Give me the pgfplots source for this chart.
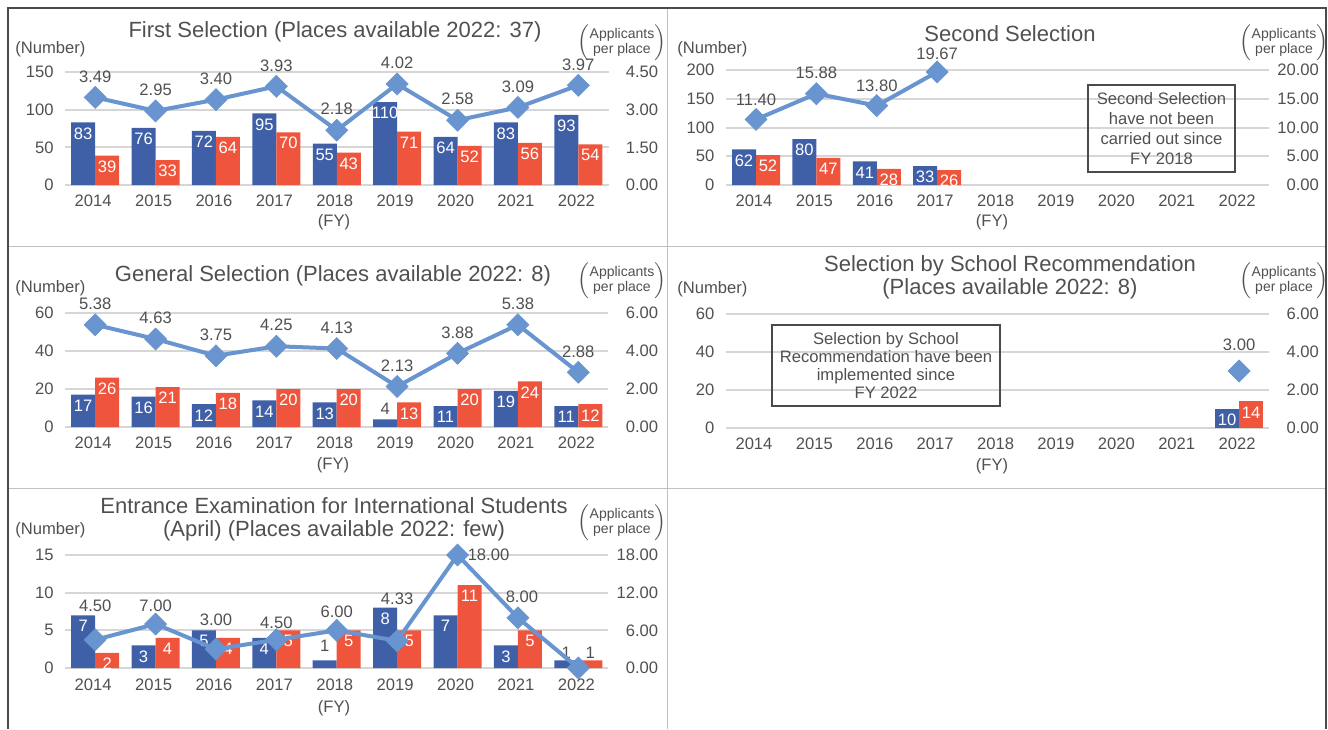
\documentclass[border=0pt]{standalone}
\usepackage{pgfplots}
\pgfplotsset{compat=1.18}
\usepackage{fontspec}
\setmainfont{Liberation Sans}

\definecolor{barblue}{HTML}{3F5FA6}
\definecolor{barred}{HTML}{EF553C}
\definecolor{linecol}{HTML}{6894CF}
\definecolor{txt}{HTML}{505050}
\definecolor{gridc}{HTML}{D6D6D6}
\definecolor{framec}{HTML}{4A4A4A}
\definecolor{divider}{HTML}{C0C0C0}

\newcommand{\tickfont}{\fontsize{8.3}{9}\selectfont}
\newcommand{\titlefont}{\fontsize{11}{11.5}\selectfont}
\newcommand{\unitlbl}{$\left(\begin{tabular}{@{}c@{}}Applicants\\per place\end{tabular}\right)$}

\pgfplotsset{
  leftax/.style={
    scale only axis, width=271.75pt,
    xmin=-0.5, xmax=8.5, ymin=0,
    axis line style={draw=none},
    major tick length=0pt,
    xtick={0,...,8},
    xticklabels={2014,2015,2016,2017,2018,2019,2020,2021,2022},
    ymajorgrids, grid style={gridc, line width=1pt},
    tick label style={font=\tickfont, text=txt},
    yticklabel style={anchor=east, inner sep=0pt, xshift=-5.5pt},
    xticklabel style={anchor=north, inner sep=0pt, yshift=-5pt, xshift=-1pt},
    /pgf/number format/assume math mode=true,
    ybar=0pt, bar width=12pt,
    clip=false,
  },
  rightax/.style={
    scale only axis, width=271.75pt,
    xmin=-0.5, xmax=8.5, ymin=0,
    axis x line=none, axis y line*=right,
    axis line style={draw=none},
    major tick length=0pt,
    tick label style={font=\tickfont, text=txt},
    yticklabel style={anchor=east, inner sep=0pt, xshift=25pt,
      /pgf/number format/.cd, fixed, fixed zerofill, precision=2},
    /pgf/number format/assume math mode=true,
    clip=false,
  },
  bars/.style={
    draw=none, fill=#1,
    nodes near coords,
    visualization depends on={\thisrow{yo} \as \yo},
    visualization depends on={value \thisrow{c} \as \lc},
    nodes near coords style={anchor=center, yshift=\yo pt, text=\lc, font=\tickfont, inner sep=0pt},
  },
  ratio/.style={
    color=linecol, line width=2pt, mark=square*, mark size=3.9pt,
    mark options={rotate=45, solid, line width=0.3pt},
    nodes near coords, point meta=explicit symbolic,
    visualization depends on={\thisrow{yo} \as \yo},
    visualization depends on={\thisrow{xo} \as \xo},
    nodes near coords style={anchor=center, yshift=\yo pt, xshift=\xo pt, text=txt, font=\tickfont, inner sep=0pt},
  },
}

\begin{document}
\begin{tikzpicture}[x=0.5pt, y=-0.5pt]
\path[use as bounding box] (0,0) rectangle (1328,729);

% panel frame
\draw[divider, line width=0.75pt] (667.7,7.5) -- (667.7,729);
\draw[divider, line width=0.75pt] (7.5,246.5) -- (1326,246.5);
\draw[divider, line width=0.75pt] (7.5,488.5) -- (1326,488.5);
\draw[framec, line width=1pt] (7.5,729) -- (7.5,7.5) -- (1326,7.5) -- (1326,729);

% ---------- First Selection ----------
\begin{axis}[leftax, at={(32.5pt,-92.5pt)}, height=56.5pt, ymax=150, ytick={0,50,100,150}]
\addplot[bars=barblue] table {
x y yo c
0 83 -5.5 white
1 76 -5.5 white
2 72 -5.5 white
3 95 -5.5 white
4 55 -5.5 white
5 110 -5.5 white
6 64 -5.5 white
7 83 -5.5 white
8 93 -5.5 white
};
\addplot[bars=barred] table {
x y yo c
0 39 -5.5 white
1 33 -5.5 white
2 64 -5.5 white
3 70 -5.5 white
4 43 -5.5 white
5 71 -5.5 white
6 52 -5.5 white
7 56 -5.5 white
8 54 -5.5 white
};
\end{axis}
\begin{axis}[rightax, at={(32.5pt,-92.5pt)}, height=56.5pt, ymax=4.5, ytick={0,1.5,3,4.5}]
\addplot[ratio] table[meta=lbl] {
x y yo xo lbl
0 3.49 10.5 0 3.49
1 2.95 10.5 0 2.95
2 3.40 10.5 0 3.40
3 3.93 10.5 0 3.93
4 2.18 10.5 0 2.18
5 4.02 10.5 0 4.02
6 2.58 10.5 0 2.58
7 3.09 10.5 0 3.09
8 3.97 10.5 0 3.97
};
\end{axis}

% ---------- Second Selection ----------
\begin{axis}[leftax, at={(362.9pt,-92.5pt)}, height=57.5pt, ymax=200, ytick={0,50,100,150,200}]
\addplot[bars=barblue] table {
x y yo c
0 62 -5.5 white
1 80 -5.5 white
2 41 -5.5 white
3 33 -5.5 white
};
\addplot[bars=barred] table {
x y yo c
0 52 -5.5 white
1 47 -5.5 white
2 28 -5.5 white
3 26 -5.5 white
};
\end{axis}
\begin{axis}[rightax, at={(362.9pt,-92.5pt)}, height=57.5pt, ymax=20, ytick={0,5,10,15,20}]
\addplot[ratio] table[meta=lbl] {
x y yo xo lbl
0 11.40 10 0 11.40
1 15.88 10.5 0 15.88
2 13.80 10 0 13.80
3 19.67 9 0 19.67
};
\end{axis}

% ---------- General Selection ----------
\begin{axis}[leftax, at={(32.5pt,-213.5pt)}, height=57pt, ymax=60, ytick={0,20,40,60}]
\addplot[bars=barblue] table {
x y yo c
0 17 -5.5 white
1 16 -5.5 white
2 12 -5.5 white
3 14 -5.5 white
4 13 -5.5 white
5 4 5.5 txt
6 11 -5.5 white
7 19 -5.5 white
8 11 -5.5 white
};
\addplot[bars=barred] table {
x y yo c
0 26 -5.5 white
1 21 -5.5 white
2 18 -5.5 white
3 20 -5.5 white
4 20 -5.5 white
5 13 -5.5 white
6 20 -5.5 white
7 24 -5.5 white
8 12 -5.5 white
};
\end{axis}
\begin{axis}[rightax, at={(32.5pt,-213.5pt)}, height=57pt, ymax=6, ytick={0,2,4,6}]
\addplot[ratio] table[meta=lbl] {
x y yo xo lbl
0 5.38 10.5 0 5.38
1 4.63 10.5 0 4.63
2 3.75 10.5 0 3.75
3 4.25 10.5 0 4.25
4 4.13 10.5 0 4.13
5 2.13 10.5 0 2.13
6 3.88 10.5 0 3.88
7 5.38 10.5 0 5.38
8 2.88 10.5 0 2.88
};
\end{axis}

% ---------- Selection by School Recommendation ----------
\begin{axis}[leftax, at={(362.9pt,-214pt)}, height=57pt, ymax=60, ytick={0,20,40,60}]
\addplot[bars=barblue] table {
x y yo c
8 10 -5.5 white
};
\addplot[bars=barred] table {
x y yo c
8 14 -5.5 white
};
\end{axis}
\begin{axis}[rightax, at={(362.9pt,-214pt)}, height=57pt, ymax=6, ytick={0,2,4,6}]
\addplot[ratio] table[meta=lbl] {
x y yo xo lbl
8 3.00 13 0 3.00
};
\end{axis}

% ---------- International Students ----------
\begin{axis}[leftax, at={(32.5pt,-334pt)}, height=56.5pt, ymax=15, ytick={0,5,10,15}]
\addplot[bars=barblue] table {
x y yo c
0 7 -5.5 white
1 3 -5.5 white
2 5 -5.5 white
3 4 -5.5 white
4 1 7.5 txt
5 8 -5.5 white
6 7 -5.5 white
7 3 -5.5 white
8 1 4 txt
};
\addplot[bars=barred] table {
x y yo c
0 2 -5.5 white
1 4 -5.5 white
2 4 -5.5 white
3 5 -5.5 white
4 5 -5.5 white
5 5 -5.5 white
6 11 -5.5 white
7 5 -5.5 white
8 1 4 txt
};
\end{axis}
\begin{axis}[rightax, at={(32.5pt,-334pt)}, height=56.5pt, ymax=18, ytick={0,6,12,18}]
\addplot[ratio] table[meta=lbl] {
x y yo xo lbl
0 4.50 17 0 4.50
1 7.00 9 0 7.00
2 3.00 14.5 0 3.00
3 4.50 8.5 0 4.50
4 6.00 9.5 0 6.00
5 4.33 21 0 4.33
6 18.00 0 15.5 18.00
7 8.00 10.5 2 8.00
8 0.00 0 0 {}
};
\end{axis}

% ---------- titles and unit labels ----------
\begin{scope}[every node/.style={text=txt}]
\node[font=\titlefont] at (335,32) {First Selection (Places available 2022: 37)};
\node[font=\titlefont] at (1010,34) {Second Selection};
\node[font=\titlefont] at (333,276) {General Selection (Places available 2022: 8)};
\node[font=\titlefont, align=center] at (1010,277.5) {Selection by School Recommendation\\(Places available 2022: 8)};
\node[font=\titlefont, align=center] at (334,519.5) {Entrance Examination for International Students\\(April) (Places available 2022: few)};

\node[font=\tickfont, anchor=west, inner sep=0pt] at (15,49) {(Number)};
\node[font=\tickfont, anchor=west, inner sep=0pt] at (677,49) {(Number)};
\node[font=\tickfont, anchor=west, inner sep=0pt] at (15,288) {(Number)};
\node[font=\tickfont, anchor=west, inner sep=0pt] at (677,289) {(Number)};
\node[font=\tickfont, anchor=west, inner sep=0pt] at (15,530) {(Number)};

\node[font=\fontsize{7}{7.5}\selectfont, inner sep=0pt] at (622,43) {\unitlbl};
\node[font=\fontsize{7}{7.5}\selectfont, inner sep=0pt] at (1284,43) {\unitlbl};
\node[font=\fontsize{7}{7.5}\selectfont, inner sep=0pt] at (622,281) {\unitlbl};
\node[font=\fontsize{7}{7.5}\selectfont, inner sep=0pt] at (1284,281) {\unitlbl};
\node[font=\fontsize{7}{7.5}\selectfont, inner sep=0pt] at (622,523) {\unitlbl};

\node[font=\tickfont] at (334,222) {(FY)};
\node[font=\tickfont] at (992,222) {(FY)};
\node[font=\tickfont] at (333,465) {(FY)};
\node[font=\tickfont] at (992,466) {(FY)};
\node[font=\tickfont] at (334,708) {(FY)};

\draw[framec, line width=0.8pt] (1088,85) rectangle (1235,172);
\node[font=\fontsize{8.3}{10}\selectfont, align=center] at (1161.5,128.5)
  {Second Selection\\have not been\\carried out since\\FY 2018};
\draw[framec, line width=0.8pt] (772,325) rectangle (1000,406);
\node[font=\fontsize{8.3}{8.9}\selectfont, align=center] at (886,365.5)
  {Selection by School\\Recommendation have been\\implemented since\\FY 2022};
\end{scope}
\end{tikzpicture}
\end{document}
